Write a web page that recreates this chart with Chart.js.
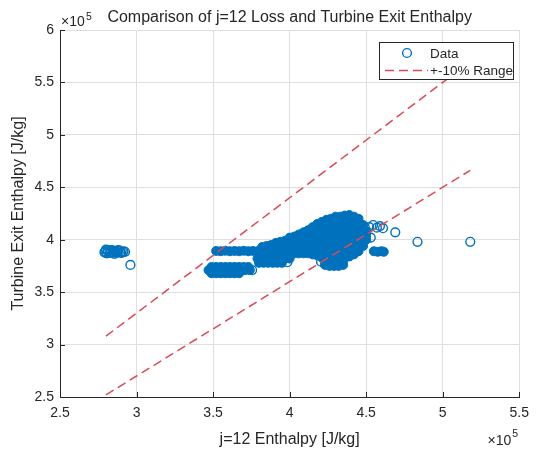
<!DOCTYPE html>
<html>
<head>
<meta charset="utf-8">
<script src="https://cdn.jsdelivr.net/npm/chart.js@4.4.0/dist/chart.umd.min.js"></script>
<style>
    html, body { margin: 0; padding: 0; background: #fff; }
</style>
</head>
<body>
<canvas id="myChart" width="537" height="449"></canvas>
<script>
// values in units of 1e5 J/kg
var xTicks = [2.5, 3, 3.5, 4, 4.5, 5, 5.5];
var xTickLabels = ['2.5', '3', '3.5', '4', '4.5', '5', '5.5'];
var yTicks = [2.5, 3, 3.5, 4, 4.5, 5, 5.5, 6];
var yTickLabels = ['2.5', '3', '3.5', '4', '4.5', '5', '5.5', '6'];

// +-10% lines
var rangeX = [2.8, 5.18];
var upperY = [3.08, 5.698];
var lowerY = [2.52, 4.662];

// single, clearly separate circles
var leftCluster = [[2.79, 3.88], [2.795, 3.89], [2.80, 3.905], [2.805, 3.87], [2.81, 3.90], [2.815, 3.89], [2.825, 3.875],
    [2.83, 3.885], [2.835, 3.90], [2.845, 3.88], [2.85, 3.895], [2.855, 3.865], [2.865, 3.89], [2.87, 3.875], [2.875, 3.88],
    [2.88, 3.90], [2.89, 3.895], [2.895, 3.88], [2.90, 3.875], [2.91, 3.88], [2.915, 3.89], [2.925, 3.885]];
var loosePoints = [[2.96, 3.76], [3.755, 3.71], [3.985, 3.785], [4.205, 3.79], [4.52, 4.12], [4.545, 4.14], [4.57, 4.115],
    [4.59, 4.13], [4.61, 4.11], [4.53, 4.02], [4.69, 4.07], [4.835, 3.98], [5.18, 3.98]];

// dense bands
var lowerBand = [[3.49, 3.74], [3.52, 3.74], [3.55, 3.74], [3.58, 3.74], [3.61, 3.74], [3.64, 3.74], [3.67, 3.74], [3.70, 3.74], [3.73, 3.74],
    [3.47, 3.71], [3.50, 3.71], [3.53, 3.71], [3.56, 3.71], [3.59, 3.71], [3.62, 3.71], [3.65, 3.71], [3.68, 3.71], [3.71, 3.71], [3.74, 3.71],
    [3.49, 3.68], [3.52, 3.68], [3.55, 3.68], [3.58, 3.68], [3.61, 3.68], [3.64, 3.68], [3.67, 3.68]];
var upperBand = [[3.52, 3.893], [3.55, 3.89], [3.58, 3.895], [3.61, 3.89], [3.64, 3.893], [3.67, 3.89], [3.70, 3.895],
    [3.73, 3.89], [3.76, 3.893], [3.79, 3.89]];
var midBand = [[3.80, 3.78], [3.83, 3.78], [3.86, 3.78], [3.89, 3.78], [3.92, 3.78], [3.95, 3.78],
    [3.79, 3.82], [3.82, 3.82], [3.85, 3.82], [3.88, 3.82], [3.91, 3.82], [3.94, 3.82], [3.97, 3.82], [4.00, 3.82]];
var mainCloud = [
    [3.82, 3.89], [3.82, 3.93],
    [3.85, 3.86], [3.85, 3.90], [3.85, 3.94],
    [3.88, 3.86], [3.88, 3.90], [3.88, 3.95],
    [3.91, 3.86], [3.91, 3.90], [3.91, 3.94], [3.91, 3.97],
    [3.94, 3.86], [3.94, 3.90], [3.94, 3.94], [3.94, 3.98],
    [3.97, 3.86], [3.97, 3.90], [3.97, 3.94], [3.97, 3.99],
    [4.00, 3.87], [4.00, 3.91], [4.00, 3.95], [4.00, 3.99], [4.00, 4.02],
    [4.03, 3.87], [4.03, 3.91], [4.03, 3.95], [4.03, 3.99], [4.03, 4.03],
    [4.06, 3.87], [4.06, 3.91], [4.06, 3.95], [4.06, 3.99], [4.06, 4.03], [4.06, 4.05],
    [4.09, 3.87], [4.09, 3.91], [4.09, 3.95], [4.09, 3.99], [4.09, 4.03], [4.09, 4.07],
    [4.12, 3.87], [4.12, 3.91], [4.12, 3.95], [4.12, 3.99], [4.12, 4.03], [4.12, 4.07], [4.12, 4.09],
    [4.15, 3.86], [4.15, 3.90], [4.15, 3.94], [4.15, 3.98], [4.15, 4.02], [4.15, 4.06], [4.15, 4.10], [4.15, 4.12],
    [4.18, 3.85], [4.18, 3.89], [4.18, 3.93], [4.18, 3.97], [4.18, 4.01], [4.18, 4.05], [4.18, 4.09], [4.18, 4.13], [4.18, 4.15],
    [4.21, 3.83], [4.21, 3.87], [4.21, 3.91], [4.21, 3.95], [4.21, 3.99], [4.21, 4.03], [4.21, 4.07], [4.21, 4.11], [4.21, 4.15], [4.21, 4.17],
    [4.24, 3.84], [4.24, 3.88], [4.24, 3.92], [4.24, 3.96], [4.24, 4.00], [4.24, 4.04], [4.24, 4.08], [4.24, 4.12], [4.24, 4.16], [4.24, 4.19],
    [4.27, 3.84], [4.27, 3.88], [4.27, 3.92], [4.27, 3.96], [4.27, 4.00], [4.27, 4.04], [4.27, 4.08], [4.27, 4.12], [4.27, 4.16], [4.27, 4.20],
    [4.30, 3.83], [4.30, 3.87], [4.30, 3.91], [4.30, 3.95], [4.30, 3.99], [4.30, 4.03], [4.30, 4.07], [4.30, 4.11], [4.30, 4.15], [4.30, 4.19], [4.30, 4.22],
    [4.33, 3.82], [4.33, 3.86], [4.33, 3.90], [4.33, 3.94], [4.33, 3.98], [4.33, 4.02], [4.33, 4.06], [4.33, 4.10], [4.33, 4.14], [4.33, 4.18], [4.33, 4.22],
    [4.36, 3.83], [4.36, 3.87], [4.36, 3.95], [4.36, 3.99], [4.36, 4.03], [4.36, 4.07], [4.36, 4.11], [4.36, 4.15], [4.36, 4.19], [4.36, 4.23],
    [4.39, 3.84], [4.39, 3.88], [4.39, 3.92], [4.39, 3.96], [4.39, 4.00], [4.39, 4.04], [4.39, 4.08], [4.39, 4.12], [4.39, 4.16], [4.39, 4.20], [4.39, 4.235],
    [4.42, 3.86], [4.42, 3.90], [4.42, 3.94], [4.42, 3.98], [4.42, 4.02], [4.42, 4.06], [4.42, 4.10], [4.42, 4.14], [4.42, 4.18], [4.42, 4.22],
    [4.45, 3.89], [4.45, 3.93], [4.45, 3.97], [4.45, 4.01], [4.45, 4.05], [4.45, 4.09], [4.45, 4.13], [4.45, 4.17], [4.45, 4.20],
    [4.48, 3.94], [4.48, 3.98], [4.48, 4.02], [4.48, 4.06], [4.48, 4.10], [4.48, 4.14],
    [4.50, 4.00], [4.50, 4.04], [4.50, 4.08]
];
var lowerCloud = [[4.23, 3.76], [4.23, 3.80], [4.26, 3.75], [4.26, 3.79], [4.29, 3.75], [4.29, 3.79],
    [4.32, 3.75], [4.32, 3.79], [4.35, 3.76], [4.35, 3.80]];
var rightCluster = [[4.55, 3.89], [4.575, 3.885], [4.60, 3.89], [4.615, 3.885]];

var blue = '#0072bd';
var red = '#dc4a56';
var textColor = '#262626';
var gridColor = '#dfdfdf';
var fontFam = '"Liberation Sans", Arial, Helvetica, sans-serif';

function toXY(list) {
    return list.map(function (p) {
        return {x: p[0], y: p[1]};
    });
}

var hollow = toXY(leftCluster.concat(loosePoints));
var dense = toXY(lowerBand.concat(upperBand, midBand, mainCloud, lowerCloud, rightCluster));

var textPlugin = {
    id: 'texts',
    afterDatasetsDraw: function (chart) {
        var ctx = chart.ctx;
        var xs = chart.scales.x, ys = chart.scales.y;
        ctx.save();
        // inward tick marks like matlab
        ctx.strokeStyle = textColor;
        ctx.lineWidth = 1;
        ctx.beginPath();
        xTicks.forEach(function (v) {
            var px = Math.round(xs.getPixelForValue(v)) + 0.5;
            ctx.moveTo(px, ys.bottom);
            ctx.lineTo(px, ys.bottom - 5);
        });
        yTicks.forEach(function (v) {
            var py = Math.round(ys.getPixelForValue(v)) + 0.5;
            ctx.moveTo(xs.left, py);
            ctx.lineTo(xs.left + 5, py);
        });
        ctx.stroke();
        ctx.restore();
    },
    afterDraw: function (chart) {
        var ctx = chart.ctx;
        var ca = chart.chartArea;
        ctx.save();
        ctx.fillStyle = textColor;
        // title
        ctx.font = '16px ' + fontFam;
        ctx.textAlign = 'center';
        ctx.textBaseline = 'alphabetic';
        ctx.fillText('Comparison of j=12 Loss and Turbine Exit Enthalpy', (ca.left + ca.right) / 2, 22);
        // exponent labels
        ctx.textAlign = 'left';
        ctx.font = '14px ' + fontFam;
        ctx.fillText('\u00d710', ca.left + 1, 26);
        ctx.font = '10.5px ' + fontFam;
        ctx.fillText('5', ca.left + 26, 20);
        ctx.textAlign = 'right';
        ctx.font = '14px ' + fontFam;
        ctx.fillText('\u00d710', ca.right - 8, 445);
        ctx.textAlign = 'left';
        ctx.font = '10.5px ' + fontFam;
        ctx.fillText('5', ca.right - 7, 437);

        // legend
        var ds = chart.data.datasets;
        var bx = 379, by = 42, bw = 134, bh = 37;
        ctx.fillStyle = '#ffffff';
        ctx.fillRect(bx, by, bw, bh);
        ctx.strokeStyle = textColor;
        ctx.lineWidth = 1;
        ctx.strokeRect(bx + 0.5, by + 0.5, bw, bh);
        ctx.strokeStyle = blue;
        ctx.lineWidth = 1.4;
        ctx.beginPath();
        ctx.arc(407, 53, 4.4, 0, Math.PI * 2);
        ctx.stroke();
        ctx.strokeStyle = red;
        ctx.lineWidth = 1.5;
        ctx.setLineDash([9, 5]);
        ctx.beginPath();
        ctx.moveTo(385, 70.5);
        ctx.lineTo(428, 70.5);
        ctx.stroke();
        ctx.setLineDash([]);
        ctx.fillStyle = textColor;
        ctx.font = '13.5px ' + fontFam;
        ctx.textBaseline = 'middle';
        ctx.fillText(ds[0].label, 430, 54);
        ctx.fillText(ds[2].label, 430, 71);
        ctx.restore();
    }
};

var ctx = document.getElementById('myChart').getContext('2d');
var chart = new Chart(ctx, {
    type: 'scatter',
    data: {
        datasets: [{
            label: 'Data',
            data: hollow,
            order: 3,
            pointStyle: 'circle',
            pointRadius: 4.4,
            pointBorderWidth: 1.4,
            pointBorderColor: blue,
            pointBackgroundColor: 'rgba(0,0,0,0)'
        }, {
            label: 'Data',
            data: dense,
            order: 4,
            pointStyle: 'circle',
            pointRadius: 4.5,
            pointBorderWidth: 1,
            pointBorderColor: blue,
            pointBackgroundColor: blue
        }, {
            label: '+-10% Range',
            data: [{x: rangeX[0], y: upperY[0]}, {x: rangeX[1], y: upperY[1]}],
            order: 1,
            showLine: true,
            pointRadius: 0,
            borderColor: red,
            borderWidth: 1.5,
            borderDash: [9, 5]
        }, {
            label: '+-10% Range',
            data: [{x: rangeX[0], y: lowerY[0]}, {x: rangeX[1], y: lowerY[1]}],
            order: 2,
            showLine: true,
            pointRadius: 0,
            borderColor: red,
            borderWidth: 1.5,
            borderDash: [9, 5]
        }]
    },
    options: {
        responsive: false,
        animation: false,
        devicePixelRatio: 1,
        layout: {padding: {top: 30, right: 12, bottom: 0, left: 0}},
        plugins: {
            legend: {display: false},
            tooltip: {enabled: false},
            title: {display: false}
        },
        scales: {
            x: {
                type: 'linear',
                min: 2.5,
                max: 5.5,
                afterBuildTicks: function (s) {
                    s.ticks = xTicks.map(function (v) { return {value: v}; });
                },
                afterFit: function (s) { s.height = 52; },
                ticks: {
                    color: textColor,
                    font: {family: fontFam, size: 14},
                    padding: 8,
                    maxRotation: 0,
                    callback: function (v, i) { return xTickLabels[i]; }
                },
                grid: {color: gridColor, drawTicks: false},
                border: {color: textColor},
                title: {
                    display: true,
                    text: 'j=12 Enthalpy [J/kg]',
                    color: textColor,
                    font: {family: fontFam, size: 16},
                    padding: {top: 0, bottom: 0}
                }
            },
            y: {
                type: 'linear',
                min: 2.5,
                max: 6,
                afterBuildTicks: function (s) {
                    s.ticks = yTicks.map(function (v) { return {value: v}; });
                },
                afterFit: function (s) { s.width = 60; },
                ticks: {
                    color: textColor,
                    font: {family: fontFam, size: 14},
                    padding: 6,
                    callback: function (v, i) { return yTickLabels[i]; }
                },
                grid: {color: gridColor, drawTicks: false},
                border: {color: textColor},
                title: {
                    display: true,
                    text: 'Turbine Exit Enthalpy [J/kg]',
                    color: textColor,
                    font: {family: fontFam, size: 16},
                    padding: {top: 9, bottom: 0}
                }
            }
        }
    },
    plugins: [textPlugin]
});
</script>
</body>
</html>
